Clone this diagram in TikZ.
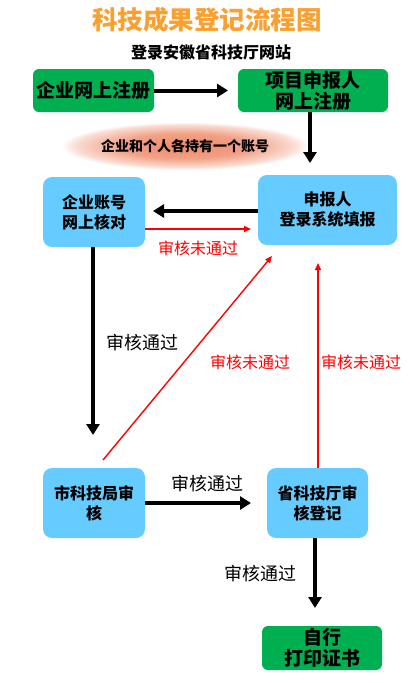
\documentclass[tikz,border=0pt]{standalone}
\usepackage{fontspec}
\setmainfont{Noto Sans CJK SC}
\usetikzlibrary{arrows.meta,shapes.geometric}
\definecolor{gbox}{HTML}{00B050}
\definecolor{bbox}{HTML}{66CCFF}
\definecolor{otitle}{HTML}{F9A030}
\definecolor{pink}{HTML}{EE8A68}
\pgfdeclareradialshading{accglow}{\pgfpoint{0bp}{0bp}}{color(0bp)=(pink); color(13bp)=(pink!80); color(22bp)=(pink!30); color(25bp)=(white); color(50bp)=(white)}
\begin{document}
\begin{tikzpicture}[x=1pt,y=-1pt]
    \tikzstyle{gstep}=[fill=gbox, rounded corners=6pt, inner sep=0pt, align=center, font=\bfseries\fontsize{19}{21}\selectfont]
    \tikzstyle{bstep}=[fill=bbox, rounded corners=9pt, inner sep=0pt, align=center, font=\bfseries\fontsize{16}{20}\selectfont]
    \tikzstyle{pass}=[line width=4pt, -{Triangle[length=11pt,width=13pt]}]
    \tikzstyle{fail}=[red, line width=1.4pt, -{Triangle[length=7pt,width=6pt]}]
    \tikzstyle{lab}=[font=\fontsize{18}{21}\selectfont]
    \tikzstyle{rlab}=[red, font=\fontsize{16}{19}\selectfont]
    \useasboundingbox (0,0) rectangle (413,683);
    \node (t) at (207,20){\textcolor{otitle}{\bfseries\fontsize{25.5}{28}\selectfont 科技成果登记流程图}};
    \node (w) at (211,52){\bfseries\fontsize{16}{18}\selectfont 登录安徽省科技厅网站};
    \node[gstep, minimum width=121pt, minimum height=43pt] (e1) at (93.5,90.5){企业网上注册};
    \node[gstep, minimum width=150pt, minimum height=43pt] (p1) at (313,90.5){项目申报人\\网上注册};
    \node[ellipse, shading=accglow, minimum width=205pt, minimum height=48pt,
          font=\bfseries\fontsize{14}{16}\selectfont] (acc) at (185,146){企业和个人各持有一个账号};
    \node[bstep, minimum width=102pt, minimum height=70pt] (e2) at (94,212){企业账号\\网上核对};
    \node[bstep, minimum width=139pt, minimum height=70pt] (p2) at (327.5,210){申报人\\登录系统填报};
    \node[bstep, minimum width=102pt, minimum height=70pt] (c1) at (94,503){市科技局审\\核};
    \node[bstep, minimum width=101pt, minimum height=70pt] (s1) at (317.5,503){省科技厅审\\核登记};
    \node[gstep, minimum width=120pt, minimum height=44pt] (o1) at (322,648){自行\\打印证书};
    \coordinate (x1) at (310,163);
    \coordinate (x2) at (251,229);
    \coordinate (x3) at (272,256);
    \coordinate (x4) at (318,263);
    \coordinate (x5) at (93,435);
    \coordinate (x6) at (315,608);
    \draw[pass] (e1.east) -- (228,90.5);
    \draw[pass] (p1.south -| x1) -- (x1);
    \draw[pass] (p2.west |- 0,211) -- (153,211);
    \draw[fail] (e2.east |- 0,229) -- (x2);
    \draw[pass] (e2.south -| x5) -- (x5);
    \draw[fail] (103,460) -- (x3);
    \draw[fail] (s1.north -| x4) -- (x4);
    \draw[pass] (c1.east) -- (251,503);
    \draw[pass] (s1.south -| x6) -- (x6);
    \node[rlab] (r1) at (198,248){审核未通过};
    \node[rlab] (r2) at (250,362){审核未通过};
    \node[rlab] (r3) at (361,362){审核未通过};
    \node[lab] (l1) at (142,343){审核通过};
    \node[lab] (l2) at (207,484){审核通过};
    \node[lab] (l3) at (260,574){审核通过};
  \end{tikzpicture}
\end{document}
